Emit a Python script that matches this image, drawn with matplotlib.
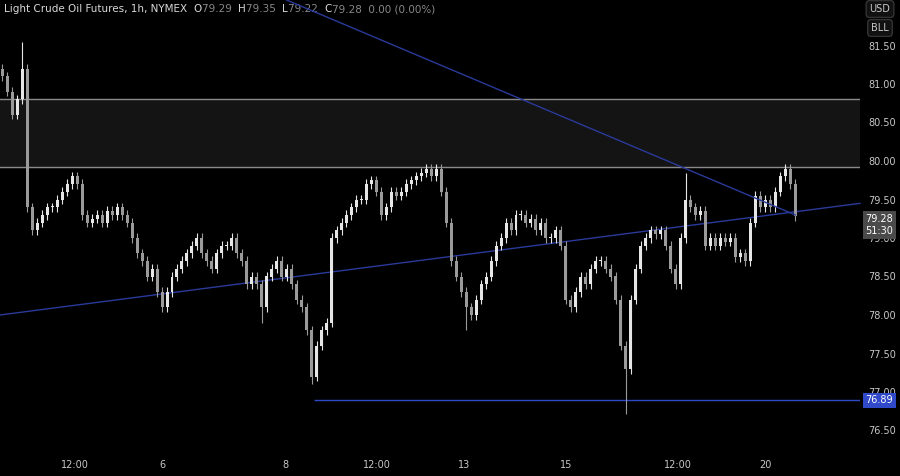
import matplotlib
matplotlib.use("Agg")
import matplotlib.pyplot as plt
import numpy as np

closes = [81.1,80.9,80.6,80.8,81.2,79.4,79.1,79.2,79.3,79.4,79.4,79.5,79.6,79.7,79.8,79.7,79.3,79.2,79.25,79.3,
79.2,79.35,79.3,79.4,79.3,79.2,79.0,78.8,78.7,78.5,78.6,78.3,78.1,78.3,78.5,78.6,78.7,78.8,78.9,79.0,
78.8,78.7,78.6,78.8,78.9,78.9,79.0,78.8,78.7,78.4,78.5,78.4,78.1,78.5,78.6,78.7,78.5,78.6,78.4,78.2,
78.1,77.8,77.2,77.6,77.8,77.9,79.0,79.1,79.2,79.3,79.4,79.5,79.5,79.7,79.75,79.6,79.3,79.4,79.6,79.55,
79.6,79.7,79.75,79.8,79.85,79.9,79.8,79.9,79.6,79.2,78.7,78.5,78.3,78.1,78.0,78.2,78.4,78.5,78.7,78.9,
79.0,79.2,79.1,79.3,79.3,79.2,79.25,79.1,79.2,79.0,79.0,79.1,78.9,78.2,78.1,78.3,78.5,78.4,78.6,78.7,
78.7,78.6,78.5,78.2,77.6,77.3,78.2,78.6,78.9,79.0,79.1,79.05,79.1,78.9,78.6,78.4,79.0,79.5,79.4,79.3,
79.35,78.9,79.0,78.9,79.0,78.95,79.0,78.75,78.8,78.7,79.2,79.55,79.4,79.5,79.4,79.6,79.8,79.9,79.7,79.28]
first_open = 81.2
wick = 0.06
extra_high = {4: 81.55, 137: 79.85, 157: 79.96}
extra_low = {62: 77.1, 125: 76.72, 52: 77.9, 93: 77.8}

xtick_pos = [14.6, 32, 56.8, 75, 92.6, 113, 135.4, 153]
xtick_lab = ["12:00", "6", "8", "12:00", "13", "15", "12:00", "20"]
yticks = [76.5, 77.0, 77.5, 78.0, 78.5, 79.0, 79.5, 80.0, 80.5, 81.0, 81.5]
zone = (79.92, 80.8)
support = 76.89
last = 79.28

fig = plt.figure(figsize=(9, 4.76), dpi=100, facecolor="black")
ax = fig.add_axes([0, 28/476, 860/900, 448/476])
ax.set_facecolor("black")
ax.set_xlim(-0.5, 172)
ax.set_ylim(80 - 287/77, 80 + 161/77)

opens = [first_open] + closes[:-1]
for i, (o, c) in enumerate(zip(opens, closes)):
    hi = max(o, c) + wick
    lo = min(o, c) - wick
    hi = max(hi, extra_high.get(i, hi))
    lo = min(lo, extra_low.get(i, lo))
    col = "#e6e6e6" if c >= o else "#9a9a9a"
    ax.vlines(i, lo, hi, color=col, lw=0.8, zorder=3)
    ax.bar(i, max(abs(c - o), 0.01), bottom=min(o, c), width=0.6, color=col, zorder=4, lw=0)

ax.axhspan(zone[0], zone[1], color="#141414", zorder=1)
ax.axhline(zone[0], color="#8a8a8a", lw=1, zorder=2)
ax.axhline(zone[1], color="#8a8a8a", lw=1, zorder=2)
ax.hlines(support, 62.4, 172, color="#2f49c8", lw=1, zorder=2)
blue = "#2a3a9a"
ax.plot([57, 159], [82.09, 79.3], color=blue, lw=1, zorder=5)
ax.plot([-0.5, 172], [78.0, 79.45], color=blue, lw=1, zorder=2, clip_on=False)

ax.yaxis.tick_right()
ax.set_yticks(yticks)
ax.set_yticklabels([f"{v:.2f}" for v in yticks], color="#c8c8c8", fontsize=7)
ax.tick_params(axis="y", length=0, pad=6)
ax.set_xticks(xtick_pos)
ax.set_xticklabels(xtick_lab, color="#c8c8c8", fontsize=7)
ax.tick_params(axis="x", length=0, pad=9)
for s in ax.spines.values():
    s.set_visible(False)

ax.annotate(f"{last:.2f}\n51:30", xy=(1, last), xycoords=("axes fraction", "data"),
            xytext=(14, -6), textcoords="offset points", ha="center", va="center",
            fontsize=7, color="white", linespacing=1.3, annotation_clip=False,
            bbox=dict(boxstyle="square,pad=0.3", fc="#4a4a4a", ec="none"))
ax.annotate(f"{support:.2f}", xy=(1, support), xycoords=("axes fraction", "data"),
            xytext=(14, 0), textcoords="offset points", ha="center", va="center",
            fontsize=7, color="white", annotation_clip=False,
            bbox=dict(boxstyle="square,pad=0.3", fc="#2f49c8", ec="none"))

parts = [("Light Crude Oil Futures, 1h, NYMEX  ", "#d8d8d8"), ("O", "#d8d8d8"), ("79.29  ", "#888888"),
         ("H", "#d8d8d8"), ("79.35  ", "#888888"), ("L", "#d8d8d8"), ("79.22  ", "#888888"),
         ("C", "#d8d8d8"), ("79.28  0.00 (0.00%)", "#888888")]
prev = fig.text(4/900, 1 - 9/476, parts[0][0], color=parts[0][1], fontsize=7.5, va="center")
for t, c in parts[1:]:
    prev = fig.text(0, 0, t, color=c, fontsize=7.5, va="center",
                    transform=matplotlib.transforms.offset_copy(prev.get_transform(), fig=fig, x=0, y=0))
    prev.remove()
    break
# sequential placement using annotate relative to previous text
prev = fig.texts[0]
for t, c in parts[1:]:
    prev = fig.text(0, 0, "")  if False else prev.axes if False else prev
    a = ax.annotate(t, xy=(1, 0.5), xycoords=prev, xytext=(0, 0), textcoords="offset points",
                    ha="left", va="center", color=c, fontsize=7.5, annotation_clip=False)
    prev = a
for yy, t in [(9, "USD"), (28, "BLL")]:
    fig.text(880/900, 1 - yy/476, t, color="#c8c8c8", fontsize=7, ha="center", va="center",
             bbox=dict(boxstyle="round,pad=0.35", fc="#111111", ec="#333333"))

fig.savefig("out.png", dpi=100, facecolor="black")
